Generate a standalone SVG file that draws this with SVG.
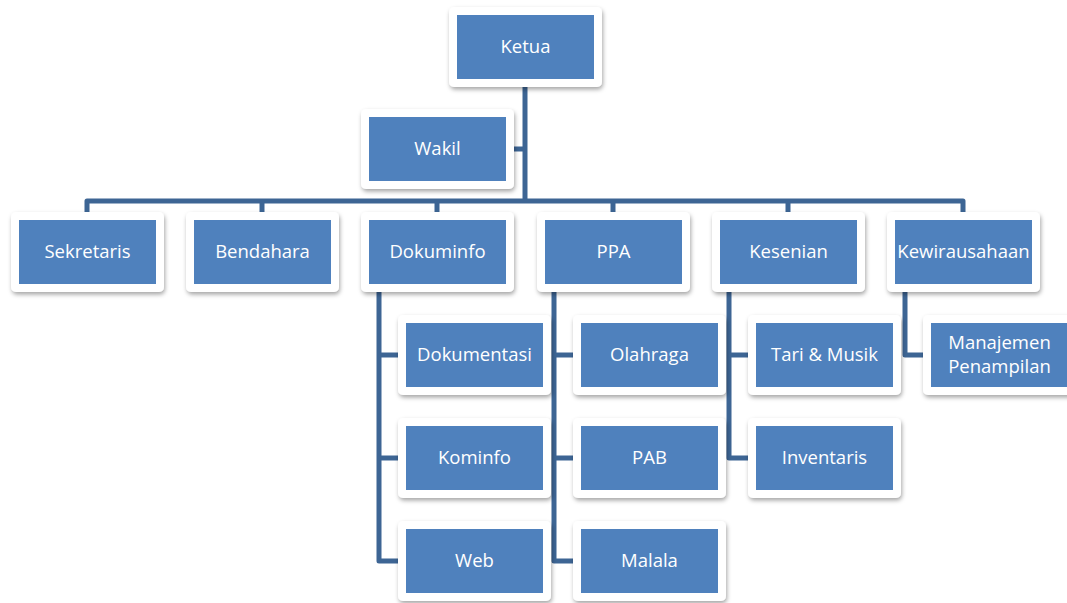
<svg xmlns="http://www.w3.org/2000/svg" width="1067" height="603" viewBox="0 0 1067 603">
<style>
.frame{fill:#ffffff;filter:url(#sh);}
.box{fill:#4f81bd;}
.lbl{fill:#ffffff;font-family:"Open Sans","Noto Sans",sans-serif;font-size:18.5px;text-anchor:middle;}
.con{fill:none;stroke:#3d6594;stroke-width:5;stroke-linejoin:round;}
</style>
<defs>
<filter id="sh" x="-20%" y="-20%" width="140%" height="150%">
<feDropShadow dx="1" dy="2.5" stdDeviation="2" flood-color="#000000" flood-opacity="0.35"/>
</filter>
</defs>
<rect width="1067" height="603" fill="#ffffff"/>
<g id="connectors">
<path class="con" d="M525,87 V201"/>
<path class="con" d="M514,149 H525"/>
<path class="con" d="M87,212 V201 H963 V212"/>
<path class="con" d="M262,201 V212"/>
<path class="con" d="M437,201 V212"/>
<path class="con" d="M613,201 V212"/>
<path class="con" d="M788,201 V212"/>
<path class="con" d="M379,292 V561 H398"/>
<path class="con" d="M379,355 H398"/>
<path class="con" d="M379,458 H398"/>
<path class="con" d="M554,292 V561 H573"/>
<path class="con" d="M554,355 H573"/>
<path class="con" d="M554,458 H573"/>
<path class="con" d="M729,292 V458 H748"/>
<path class="con" d="M729,355 H748"/>
<path class="con" d="M905,292 V355 H923"/>
</g>
<g id="ketua"><rect class="frame" x="449" y="7" width="153" height="80" rx="5"/><rect class="box" x="457" y="15" width="137" height="64"/><text class="lbl" x="525.5" y="53">Ketua</text></g>
<g id="wakil"><rect class="frame" x="361" y="109" width="153" height="80" rx="5"/><rect class="box" x="369" y="117" width="137" height="64"/><text class="lbl" x="437.5" y="155">Wakil</text></g>
<g id="sekretaris"><rect class="frame" x="11" y="212" width="153" height="80" rx="5"/><rect class="box" x="19" y="220" width="137" height="64"/><text class="lbl" x="87.5" y="258">Sekretaris</text></g>
<g id="bendahara"><rect class="frame" x="186" y="212" width="153" height="80" rx="5"/><rect class="box" x="194" y="220" width="137" height="64"/><text class="lbl" x="262.5" y="258">Bendahara</text></g>
<g id="dokuminfo"><rect class="frame" x="361" y="212" width="153" height="80" rx="5"/><rect class="box" x="369" y="220" width="137" height="64"/><text class="lbl" x="437.5" y="258">Dokuminfo</text></g>
<g id="ppa"><rect class="frame" x="537" y="212" width="153" height="80" rx="5"/><rect class="box" x="545" y="220" width="137" height="64"/><text class="lbl" x="613.5" y="258">PPA</text></g>
<g id="kesenian"><rect class="frame" x="712" y="212" width="153" height="80" rx="5"/><rect class="box" x="720" y="220" width="137" height="64"/><text class="lbl" x="788.5" y="258">Kesenian</text></g>
<g id="kewirausahaan"><rect class="frame" x="887" y="212" width="153" height="80" rx="5"/><rect class="box" x="895" y="220" width="137" height="64"/><text class="lbl" x="963.5" y="258">Kewirausahaan</text></g>
<g id="dokumentasi"><rect class="frame" x="398" y="315" width="153" height="80" rx="5"/><rect class="box" x="406" y="323" width="137" height="64"/><text class="lbl" x="474.5" y="361">Dokumentasi</text></g>
<g id="kominfo"><rect class="frame" x="398" y="418" width="153" height="80" rx="5"/><rect class="box" x="406" y="426" width="137" height="64"/><text class="lbl" x="474.5" y="464">Kominfo</text></g>
<g id="web"><rect class="frame" x="398" y="521" width="153" height="80" rx="5"/><rect class="box" x="406" y="529" width="137" height="64"/><text class="lbl" x="474.5" y="567">Web</text></g>
<g id="olahraga"><rect class="frame" x="573" y="315" width="153" height="80" rx="5"/><rect class="box" x="581" y="323" width="137" height="64"/><text class="lbl" x="649.5" y="361">Olahraga</text></g>
<g id="pab"><rect class="frame" x="573" y="418" width="153" height="80" rx="5"/><rect class="box" x="581" y="426" width="137" height="64"/><text class="lbl" x="649.5" y="464">PAB</text></g>
<g id="malala"><rect class="frame" x="573" y="521" width="153" height="80" rx="5"/><rect class="box" x="581" y="529" width="137" height="64"/><text class="lbl" x="649.5" y="567">Malala</text></g>
<g id="tari-musik"><rect class="frame" x="748" y="315" width="153" height="80" rx="5"/><rect class="box" x="756" y="323" width="137" height="64"/><text class="lbl" x="824.5" y="361">Tari &amp; Musik</text></g>
<g id="inventaris"><rect class="frame" x="748" y="418" width="153" height="80" rx="5"/><rect class="box" x="756" y="426" width="137" height="64"/><text class="lbl" x="824.5" y="464">Inventaris</text></g>
<g id="manajemen-penampilan"><rect class="frame" x="923" y="315" width="153" height="80" rx="5"/><rect class="box" x="931" y="323" width="137" height="64"/><text class="lbl" x="999.5" y="349">Manajemen</text><text class="lbl" x="999.5" y="373">Penampilan</text></g>
</svg>
